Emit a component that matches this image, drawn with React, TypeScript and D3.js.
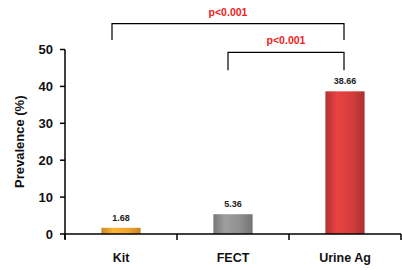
import React from 'react';
import * as d3 from 'd3';

const categories = ['Kit', 'FECT', 'Urine Ag'];
const prevalence = [1.68, 5.36, 38.66];
const barColors = ['#f2a22c', '#8e8e8e', '#d43c3c'];
const yTicks = [0, 10, 20, 30, 40, 50];
// significance brackets: [from, to, bar height, leg bottom, label]
const brackets: [string, string, number, number, string][] = [
  ['Kit', 'Urine Ag', 57, 52.6, 'p<0.001'],
  ['FECT', 'Urine Ag', 49.2, 44.4, 'p<0.001'],
];

const W = 402;
const H = 270;
const margin = { left: 65, top: 49.5, right: 1, bottom: 36 };
const font = '"Liberation Sans", Arial, sans-serif';

export default function App() {
  const x = d3
    .scaleBand()
    .domain(categories)
    .range([margin.left, W - margin.right])
    .paddingInner(0.65)
    .paddingOuter(0.325);
  const y = d3
    .scaleLinear()
    .domain([0, 50])
    .range([H - margin.bottom, margin.top]);
  const step = x.step();
  const x0 = margin.left;
  const xEnd = W - margin.right;
  const base = y(0);
  const cx = (c: string) => (x(c) as number) + x.bandwidth() / 2;

  return (
    <svg width={W} height={H} style={{ position: 'absolute', left: 0, top: 0 }}>
      <defs>
        {barColors.map((c, i) => (
          <linearGradient key={i} id={`g${i}`} x1="0" x2="1" y1="0" y2="0">
            <stop offset="0" stopColor={d3.color(c)!.darker(0.5).toString()} />
            <stop offset="0.3" stopColor={d3.color(c)!.brighter(0.3).toString()} />
            <stop offset="0.7" stopColor={c} />
            <stop offset="1" stopColor={d3.color(c)!.darker(0.6).toString()} />
          </linearGradient>
        ))}
      </defs>
      <rect width={W} height={H} fill="#fff" />

      {categories.map((c, i) => (
        <g key={c}>
          <rect
            x={x(c)}
            y={y(prevalence[i])}
            width={x.bandwidth()}
            height={base - y(prevalence[i])}
            fill={`url(#g${i})`}
          />
          <text
            x={cx(c)}
            y={y(prevalence[i]) - 7}
            textAnchor="middle"
            fontFamily={font}
            fontWeight="bold"
            fontSize={9}
            fill="#222"
          >
            {prevalence[i].toFixed(2)}
          </text>
          <text
            x={cx(c)}
            y={base + 28}
            textAnchor="middle"
            fontFamily={font}
            fontWeight="bold"
            fontSize={12.5}
            fill="#111"
          >
            {c}
          </text>
        </g>
      ))}

      {/* axes */}
      <line x1={x0} x2={x0} y1={y(50)} y2={base + 5} stroke="#000" strokeWidth={1.5} />
      <line x1={x0} x2={xEnd} y1={base} y2={base} stroke="#000" strokeWidth={1.5} />
      {yTicks.map(t => (
        <g key={t}>
          <line x1={x0 - 5} x2={x0} y1={y(t)} y2={y(t)} stroke="#000" strokeWidth={1.5} />
          <text
            x={x0 - 12}
            y={y(t)}
            dy="0.36em"
            textAnchor="end"
            fontFamily={font}
            fontWeight="bold"
            fontSize={13}
            fill="#111"
          >
            {t}
          </text>
        </g>
      ))}
      {d3.range(categories.length + 1).map(i => (
        <line
          key={i}
          x1={x0 + i * step}
          x2={x0 + i * step}
          y1={base}
          y2={base + 6}
          stroke="#000"
          strokeWidth={1.5}
        />
      ))}
      <text
        transform={`translate(24, ${y(25)}) rotate(-90)`}
        textAnchor="middle"
        fontFamily={font}
        fontWeight="bold"
        fontSize={13}
        fill="#111"
      >
        Prevalence (%)
      </text>

      {/* significance brackets */}
      {brackets.map(([a, b, top, leg, label], i) => {
        const xa = cx(a) - (i === 0 ? 9 : 5);
        const xb = cx(b) - 1;
        return (
          <g key={i}>
            <path
              d={`M${xa},${y(leg)}V${y(top)}H${xb}V${y(leg)}`}
              fill="none"
              stroke="#000"
              strokeWidth={1.2}
            />
            <text
              x={(xa + xb) / 2}
              y={y(top) - 8}
              textAnchor="middle"
              fontFamily={font}
              fontWeight="bold"
              fontSize={10.5}
              fill="#f01c1c"
            >
              {label}
            </text>
          </g>
        );
      })}
    </svg>
  );
}
